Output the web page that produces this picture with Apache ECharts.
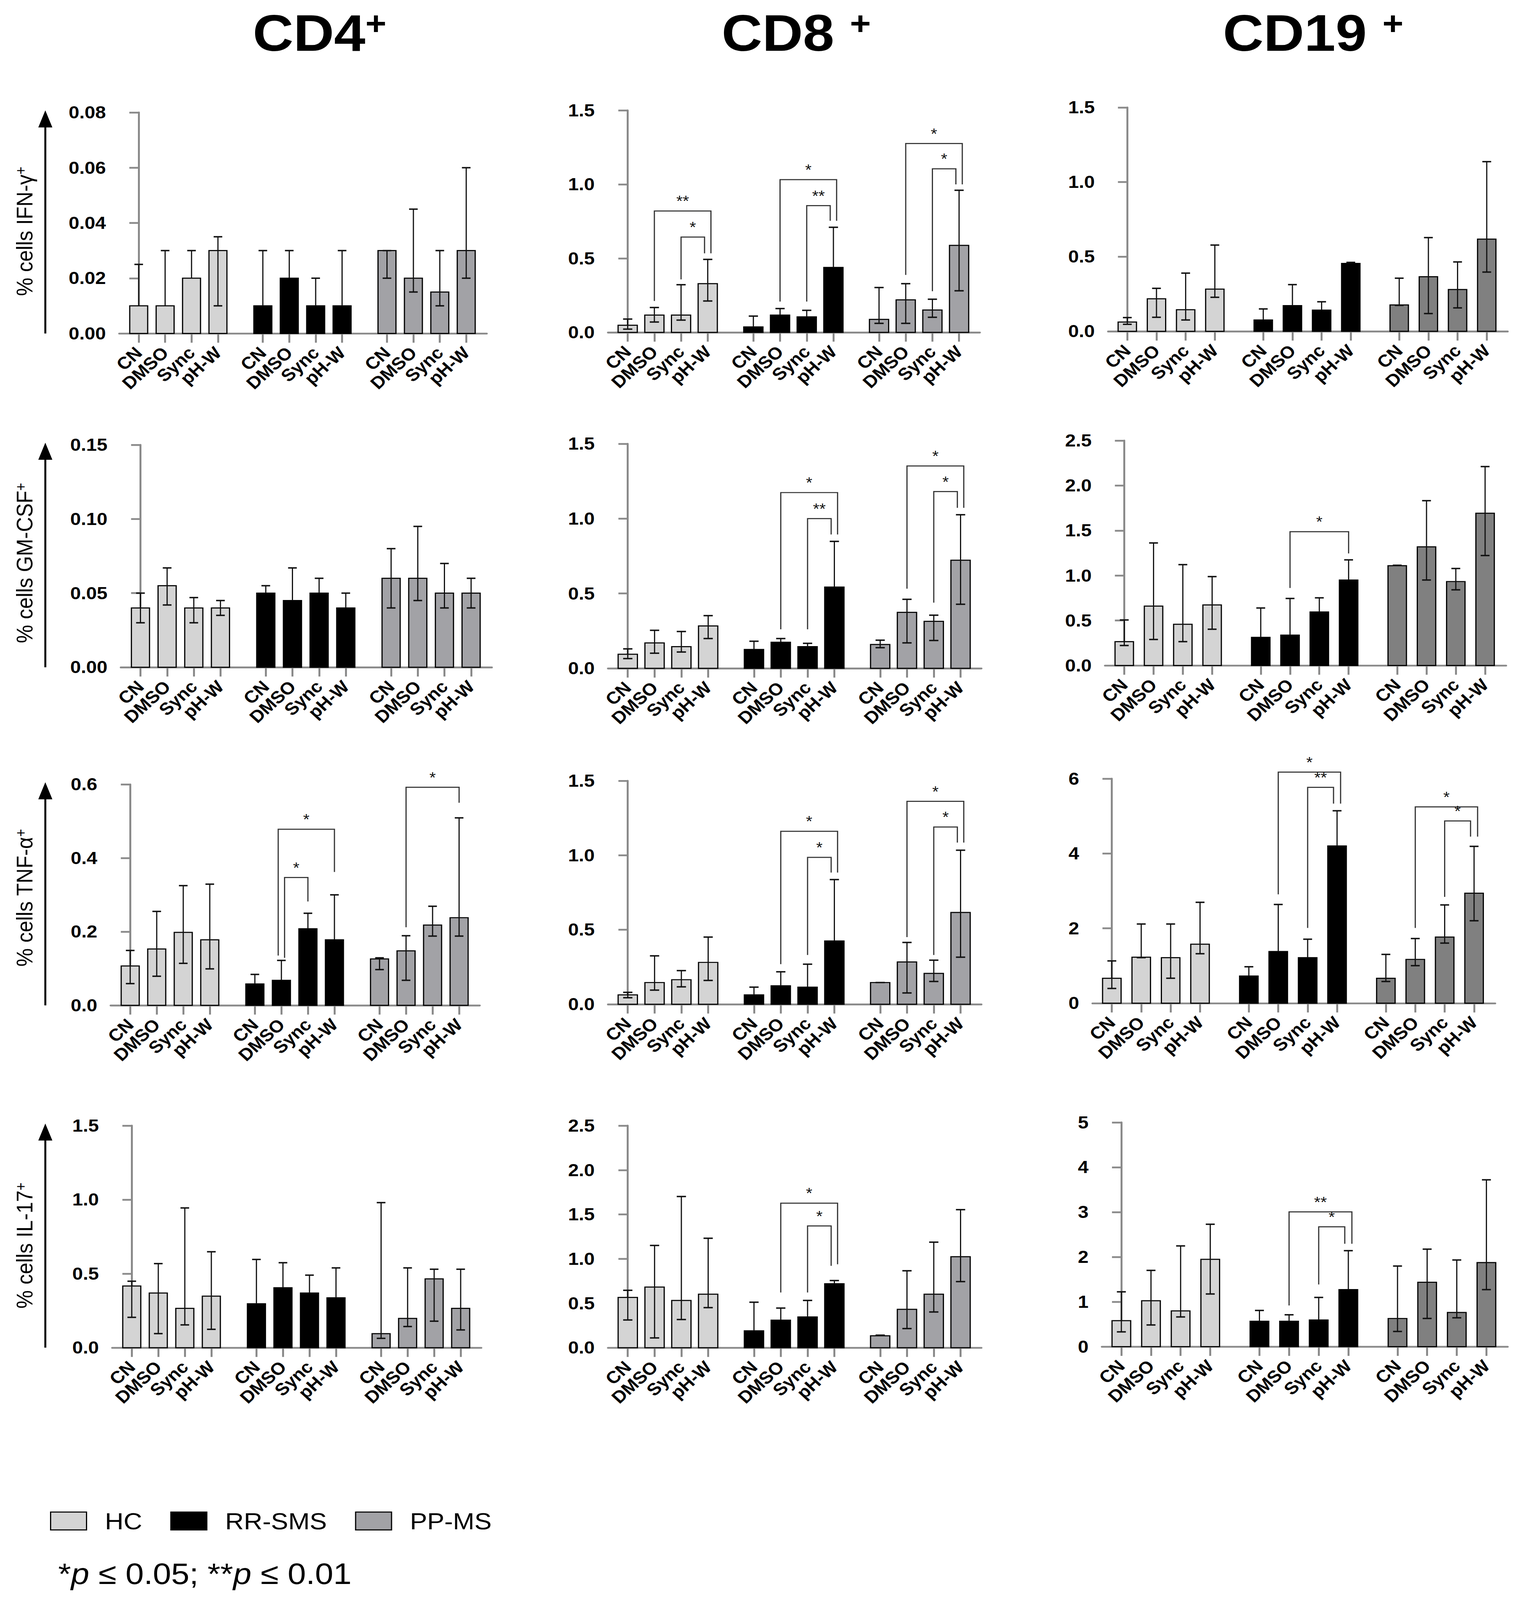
<!DOCTYPE html>
<html><head><meta charset="utf-8">
<script src="https://cdn.jsdelivr.net/npm/echarts@6/dist/echarts.min.js"></script>
<style>html,body{margin:0;padding:0;background:#fff;overflow:hidden}#wrap{position:absolute;left:0;top:0;transform-origin:0 0}#c{width:3875px;height:4496px}</style>
</head><body><div id="wrap"><div id="c"></div></div>
<script>
// ---------------- DATA ----------------
const groups = ['HC', 'RR-SMS', 'PP-MS'];
const treatments = ['CN', 'DMSO', 'Sync', 'pH-W'];
const cellTitles = ['CD4', 'CD8 ', 'CD19 '];
const cytokineLabels = ['% cells IFN-γ', '% cells GM-CSF', '% cells TNF-α', '% cells IL-17'];

// y-axis scales (rows: cytokine, cols: CD4, CD8, CD19)
const yMax = [[0.08, 1.5, 1.5], [0.15, 1.5, 2.5], [0.6, 1.5, 6], [1.5, 2.5, 5]];
const yStep = [[0.02, 0.5, 0.5], [0.05, 0.5, 0.5], [0.2, 0.5, 2], [0.5, 0.5, 1]];
const yDecimals = [[2, 1, 1], [2, 1, 1], [1, 1, 0], [1, 1, 0]];

// each: [HC, RR-SMS, PP-MS] x [CN, DMSO, Sync, pH-W]
// significance brackets: [group, fromTreatment, toTreatment, bracketY, leftLegEnd, rightLegEnd, label]
const cd4IfnMean = [[0.01, 0.01, 0.02, 0.03], [0.01, 0.02, 0.01, 0.01], [0.03, 0.02, 0.015, 0.03]];
const cd4IfnLow  = [[0.01, 0.01, 0.02, 0.01], [0.01, 0.02, 0.01, 0.01], [0.02, 0.015, 0.01, 0.02]];
const cd4IfnHigh = [[0.025, 0.03, 0.03, 0.035], [0.03, 0.03, 0.02, 0.03], [0.03, 0.045, 0.03, 0.06]];
const cd4IfnSig  = [];

const cd8IfnMean = [[0.048, 0.117, 0.117, 0.329], [0.037, 0.117, 0.105, 0.439], [0.088, 0.22, 0.151, 0.588]];
const cd8IfnLow  = [[0.022, 0.07, 0.083, 0.212], [0.037, 0.117, 0.105, 0.439], [0.061, 0.061, 0.102, 0.281]];
const cd8IfnHigh = [[0.09, 0.168, 0.322, 0.493], [0.11, 0.161, 0.149, 0.71], [0.303, 0.329, 0.224, 0.96]];
const cd8IfnSig  = [[0, 1, 3, 0.82, 0.212, 0.534, '**'], [0, 2, 3, 0.644, 0.358, 0.534, '*'],
                    [1, 1, 3, 1.032, 0.208, 0.754, '*'], [1, 2, 3, 0.856, 0.208, 0.754, '**'],
                    [2, 1, 3, 1.276, 0.388, 1.0, '*'], [2, 2, 3, 1.105, 0.278, 1.0, '*']];

const cd19IfnMean = [[0.062, 0.218, 0.145, 0.283], [0.076, 0.172, 0.142, 0.455], [0.177, 0.366, 0.28, 0.618]];
const cd19IfnLow  = [[0.047, 0.094, 0.076, 0.228], [0.076, 0.172, 0.142, 0.455], [0.174, 0.119, 0.157, 0.397]];
const cd19IfnHigh = [[0.092, 0.288, 0.39, 0.578], [0.15, 0.313, 0.198, 0.462], [0.356, 0.628, 0.465, 1.137]];
const cd19IfnSig  = [];

const cd4GmMean = [[0.04, 0.055, 0.04, 0.04], [0.05, 0.045, 0.05, 0.04], [0.06, 0.06, 0.05, 0.05]];
const cd4GmLow  = [[0.03, 0.042, 0.03, 0.035], [0.05, 0.045, 0.05, 0.04], [0.04, 0.045, 0.04, 0.04]];
const cd4GmHigh = [[0.05, 0.067, 0.047, 0.045], [0.055, 0.067, 0.06, 0.05], [0.08, 0.095, 0.07, 0.06]];
const cd4GmSig  = [];

const cd8GmMean = [[0.094, 0.17, 0.145, 0.283], [0.126, 0.174, 0.145, 0.543], [0.159, 0.374, 0.314, 0.722]];
const cd8GmLow  = [[0.065, 0.101, 0.109, 0.199], [0.126, 0.174, 0.145, 0.543], [0.138, 0.17, 0.186, 0.428]];
const cd8GmHigh = [[0.13, 0.254, 0.246, 0.352], [0.181, 0.199, 0.167, 0.848], [0.188, 0.461, 0.355, 1.026]];
const cd8GmSig  = [[1, 1, 3, 1.174, 0.261, 0.894, '*'], [1, 2, 3, 1.0, 0.261, 0.894, '**'],
                   [2, 1, 3, 1.352, 0.532, 1.072, '*'], [2, 2, 3, 1.181, 0.439, 1.072, '*']];

const cd19GmMean = [[0.265, 0.66, 0.458, 0.673], [0.313, 0.338, 0.595, 0.95], [1.109, 1.319, 0.933, 1.692]];
const cd19GmLow  = [[0.222, 0.289, 0.265, 0.403], [0.313, 0.338, 0.595, 0.95], [1.109, 0.95, 0.841, 1.222]];
const cd19GmHigh = [[0.506, 1.362, 1.121, 0.988], [0.639, 0.745, 0.752, 1.174], [1.114, 1.832, 1.078, 2.211]];
const cd19GmSig  = [[1, 1, 3, 1.487, 0.861, 1.246, '*']];

const cd4TnfMean = [[0.107, 0.153, 0.198, 0.178], [0.058, 0.068, 0.208, 0.178], [0.126, 0.148, 0.218, 0.238]];
const cd4TnfLow  = [[0.059, 0.079, 0.114, 0.099], [0.058, 0.068, 0.208, 0.178], [0.097, 0.068, 0.188, 0.188]];
const cd4TnfHigh = [[0.149, 0.255, 0.325, 0.329], [0.084, 0.122, 0.25, 0.3], [0.129, 0.189, 0.269, 0.509]];
const cd4TnfSig  = [[1, 1, 3, 0.478, 0.135, 0.362, '*'], [1, 1, 2, 0.347, 0.129, 0.282, '*'],
                    [2, 1, 3, 0.592, 0.212, 0.55, '*']];

const cd8TnfMean = [[0.063, 0.146, 0.165, 0.281], [0.063, 0.124, 0.115, 0.425], [0.146, 0.284, 0.207, 0.616]];
const cd8TnfLow  = [[0.044, 0.095, 0.117, 0.16], [0.063, 0.124, 0.115, 0.425], [0.146, 0.076, 0.153, 0.316]];
const cd8TnfHigh = [[0.08, 0.325, 0.226, 0.451], [0.115, 0.218, 0.269, 0.837], [0.146, 0.415, 0.296, 1.034]];
const cd8TnfSig  = [[1, 1, 3, 1.161, 0.269, 0.884, '*'], [1, 2, 3, 0.986, 0.331, 0.884, '*'],
                    [2, 1, 3, 1.362, 0.451, 1.085, '*'], [2, 2, 3, 1.19, 0.331, 1.085, '*']];

const cd19TnfMean = [[0.667, 1.229, 1.217, 1.577], [0.725, 1.38, 1.217, 4.203], [0.667, 1.171, 1.768, 2.939]];
const cd19TnfLow  = [[0.394, 1.217, 0.667, 1.322], [0.725, 1.38, 1.217, 4.203], [0.58, 1.003, 1.606, 2.203]];
const cd19TnfHigh = [[1.13, 2.116, 2.116, 2.696], [0.974, 2.638, 1.71, 5.142], [1.304, 1.728, 2.626, 4.191]];
const cd19TnfSig  = [[1, 1, 3, 6.174, 2.91, 5.333, '*'], [1, 2, 3, 5.768, 2.01, 5.333, '**'],
                     [2, 1, 3, 5.246, 2.01, 4.452, '*'], [2, 2, 3, 4.87, 2.84, 4.452, '*']];

const cd4Il17Mean = [[0.417, 0.369, 0.266, 0.348], [0.297, 0.405, 0.369, 0.337], [0.095, 0.198, 0.465, 0.266]];
const cd4Il17Low  = [[0.205, 0.095, 0.154, 0.124], [0.297, 0.405, 0.369, 0.337], [0.063, 0.143, 0.179, 0.12]];
const cd4Il17High = [[0.449, 0.568, 0.944, 0.648], [0.596, 0.574, 0.49, 0.539], [0.98, 0.539, 0.53, 0.53]];
const cd4Il17Sig  = [];

const cd8Il17Mean = [[0.566, 0.683, 0.532, 0.602], [0.19, 0.31, 0.346, 0.72], [0.134, 0.432, 0.602, 1.024]];
const cd8Il17Low  = [[0.312, 0.11, 0.317, 0.451], [0.19, 0.31, 0.346, 0.72], [0.134, 0.215, 0.402, 0.744]];
const cd8Il17High = [[0.646, 1.151, 1.702, 1.232], [0.512, 0.446, 0.532, 0.756], [0.141, 0.866, 1.188, 1.554]];
const cd8Il17Sig  = [[1, 1, 3, 1.627, 0.622, 0.939, '*'], [1, 2, 3, 1.371, 0.622, 0.922, '*']];

const cd19Il17Mean = [[0.58, 1.024, 0.797, 1.947], [0.565, 0.565, 0.594, 1.271], [0.628, 1.435, 0.763, 1.874]];
const cd19Il17Low  = [[0.329, 0.483, 0.662, 1.174], [0.565, 0.565, 0.594, 1.271], [0.338, 0.628, 0.643, 1.271]];
const cd19Il17High = [[1.222, 1.7, 2.246, 2.729], [0.807, 0.71, 1.097, 2.14], [1.797, 2.174, 1.932, 3.72]];
const cd19Il17Sig  = [[1, 1, 3, 3.005, 0.918, 2.295, '**'], [1, 2, 3, 2.671, 1.386, 2.295, '*']];

const panels = [
  [[cd4IfnMean, cd4IfnLow, cd4IfnHigh, cd4IfnSig], [cd8IfnMean, cd8IfnLow, cd8IfnHigh, cd8IfnSig], [cd19IfnMean, cd19IfnLow, cd19IfnHigh, cd19IfnSig]],
  [[cd4GmMean, cd4GmLow, cd4GmHigh, cd4GmSig], [cd8GmMean, cd8GmLow, cd8GmHigh, cd8GmSig], [cd19GmMean, cd19GmLow, cd19GmHigh, cd19GmSig]],
  [[cd4TnfMean, cd4TnfLow, cd4TnfHigh, cd4TnfSig], [cd8TnfMean, cd8TnfLow, cd8TnfHigh, cd8TnfSig], [cd19TnfMean, cd19TnfLow, cd19TnfHigh, cd19TnfSig]],
  [[cd4Il17Mean, cd4Il17Low, cd4Il17High, cd4Il17Sig], [cd8Il17Mean, cd8Il17Low, cd8Il17High, cd8Il17Sig], [cd19Il17Mean, cd19Il17Low, cd19Il17High, cd19Il17Sig]]
];

// ---------------- LAYOUT / STYLE ----------------
const W = 3875, H = 4496;
// grid boxes [left, top(max tick), right, bottom(zero)]
const gridBoxes = [
  [[305, 316, 1246, 937], [1556, 310, 2508, 934], [2836, 302, 3859, 931]],
  [[309, 1250, 1259, 1875], [1556, 1247, 2512, 1878], [2828, 1238, 3855, 1870]],
  [[283, 2204, 1228, 2825], [1556, 2194, 2512, 2822], [2796, 2188, 3827, 2819]],
  [[287, 3163, 1232, 3787], [1556, 3163, 2512, 3787], [2820, 3154, 3859, 3784]]
];
const colXMin = [-0.74, -0.74, -0.66];
const colXMax = [13.18, 13.2, 13.04];
const colGroupStep = [4.7, 4.71, 4.66];
const colBarW = [0.68, 0.72, 0.63];
const colColors = [['#d4d4d4', '#000000', '#a2a2a6'], ['#d4d4d4', '#000000', '#a2a2a6'], ['#d4d4d4', '#000000', '#808080']];
const titleCenters = [818, 2038, 3361];
const yLabelCenters = [650, 1582, 2523, 3500];
const axisGray = '#8a8a8a';
const FONT = "'Liberation Sans', Arial, sans-serif";
const NARROW = "'Liberation Sans Narrow', 'Arial Narrow', 'Liberation Sans', sans-serif";

const option = {
  animation: false,
  backgroundColor: '#ffffff',
  textStyle: { fontFamily: FONT },
  grid: [], xAxis: [], yAxis: [], series: [], graphic: [],
  legend: {
    data: groups, left: 123, top: 4236, orient: 'horizontal',
    itemWidth: 92, itemHeight: 50, itemGap: 72, icon: 'rect', selectedMode: false,
    itemStyle: { borderColor: '#000', borderWidth: 3 },
    textStyle: { fontSize: 66, color: '#000', fontFamily: FONT, padding: [0, 0, 0, 42] }
  }
};

let idx = 0;
for (let r = 0; r < 4; r++) {
  for (let c = 0; c < 3; c++) {
    const [mean, low, high, sig] = panels[r][c];
    const [l, t, rr, b] = gridBoxes[r][c];
    const step = colGroupStep[c];
    const bw = colBarW[c];
    const positions = [];
    const posLabels = [];
    for (let g = 0; g < 3; g++) for (let k = 0; k < 4; k++) { positions.push(k + g * step); posLabels.push(treatments[k]); }
    option.grid.push({ left: l, top: t, width: rr - l, height: b - t, containLabel: false, outerBoundsMode: 'none' });
    option.xAxis.push({
      type: 'value', gridIndex: idx, min: colXMin[c], max: colXMax[c],
      axisLine: { show: true, onZero: false, lineStyle: { color: axisGray, width: 5 } },
      axisTick: { show: true, customValues: positions, length: 26, lineStyle: { color: axisGray, width: 5 } },
      axisLabel: {
        show: true, customValues: positions, rotate: 45, margin: 46,
        fontFamily: FONT, fontWeight: 'bold', fontSize: 48, color: '#000',
        formatter: (v) => {
          let best = 0, bd = 1e9;
          positions.forEach((p, i) => { const d = Math.abs(p - v); if (d < bd) { bd = d; best = i; } });
          return posLabels[best];
        }
      },
      splitLine: { show: false }
    });
    const dec = yDecimals[r][c];
    option.yAxis.push({
      type: 'value', gridIndex: idx, min: 0, max: yMax[r][c], interval: yStep[r][c],
      axisLine: { show: true, lineStyle: { color: axisGray, width: 5 } },
      axisTick: { show: true, length: 24, lineStyle: { color: axisGray, width: 5 } },
      axisLabel: { margin: 34, fontFamily: NARROW, fontWeight: 'bold', fontSize: 49, color: '#000',
        formatter: (v) => Number(v).toFixed(dec) },
      splitLine: { show: false }
    });
    for (let g = 0; g < 3; g++) {
      const color = colColors[c][g];
      option.series.push({
        type: 'custom', name: groups[g], xAxisIndex: idx, yAxisIndex: idx,
        itemStyle: { color: color }, silent: true, clip: false,
        data: treatments.map((tr, k) => [k + g * step, mean[g][k], low[g][k], high[g][k]]),
        renderItem: (params, api) => {
          const x = api.value(0), m = api.value(1), lo = api.value(2), hi = api.value(3);
          const p0 = api.coord([x - bw / 2, 0]);
          const p1 = api.coord([x + bw / 2, m]);
          const pHi = api.coord([x, hi]);
          const pLo = api.coord([x, lo]);
          const wpx = p1[0] - p0[0];
          const cap = wpx * 0.24;
          const ch = [{
            type: 'rect', shape: { x: p0[0], y: p1[1], width: wpx, height: p0[1] - p1[1] },
            style: { fill: color, stroke: '#000', lineWidth: 3 }
          }, {
            type: 'line', shape: { x1: pLo[0], y1: pLo[1], x2: pHi[0], y2: pHi[1] },
            style: { stroke: '#111', lineWidth: 3 }
          }, {
            type: 'line', shape: { x1: pHi[0] - cap, y1: pHi[1], x2: pHi[0] + cap, y2: pHi[1] },
            style: { stroke: '#111', lineWidth: 4 }
          }];
          if (lo < m - 1e-9) {
            ch.push({ type: 'line', shape: { x1: pLo[0] - cap, y1: pLo[1], x2: pLo[0] + cap, y2: pLo[1] },
              style: { stroke: '#111', lineWidth: 4 } });
          }
          return { type: 'group', children: ch };
        }
      });
    }
    if (sig.length) {
      const d = 0.12;
      const items = sig.map((s, i) => {
        const [g, from, to, y] = s;
        let lx = from + g * step, rx = to + g * step;
        sig.forEach((o, j) => {
          if (j === i || o[0] !== g) return;
          if (o[1] === from) lx += (y > o[3] ? -d : d);
          if (o[2] === to) rx += (y > o[3] ? d : -d);
        });
        return [lx, rx, y, s[4], s[5]];
      });
      option.series.push({
        type: 'custom', xAxisIndex: idx, yAxisIndex: idx, silent: true, clip: false, z: 5,
        data: items,
        renderItem: (params, api) => {
          const lx = api.value(0), rx = api.value(1), y = api.value(2), le = api.value(3), re = api.value(4);
          const a = api.coord([lx, le]), bb = api.coord([lx, y]), cc = api.coord([rx, y]), dd = api.coord([rx, re]);
          return { type: 'group', children: [
            { type: 'polyline', shape: { points: [a, bb, cc, dd] }, style: { stroke: '#333', lineWidth: 3, fill: null } },
            { type: 'text', x: (bb[0] + cc[0]) / 2, y: bb[1] - 6,
              style: { text: sig[params.dataIndex][6], fontSize: 42, fontFamily: FONT, fill: '#111', align: 'center', verticalAlign: 'bottom' } }
          ] };
        }
      });
    }
    idx++;
  }
}

// column titles
cellTitles.forEach((t, c) => {
  option.graphic.push({
    type: 'text', x: titleCenters[c], y: 92,
    style: { text: '{m|' + t + '}{s|+}', align: 'center', verticalAlign: 'middle',
      rich: { m: { fontSize: 144, fontWeight: 'bold', fontFamily: FONT, fill: '#000', verticalAlign: 'bottom' },
              s: { fontSize: 92, fontWeight: 'bold', fontFamily: FONT, fill: '#000', verticalAlign: 'top' } } }
  });
});
// y-axis titles and arrows
for (let r = 0; r < 4; r++) {
  const [l, t, rr, b] = gridBoxes[r][0];
  option.graphic.push({
    type: 'text', x: 63, y: yLabelCenters[r], rotation: Math.PI / 2,
    style: { text: '{m|' + cytokineLabels[r] + '}{s|+}', align: 'center', verticalAlign: 'middle',
      rich: { m: { fontSize: 58, fontFamily: FONT, fill: '#000', verticalAlign: 'bottom' },
              s: { fontSize: 38, fontFamily: FONT, fill: '#000', verticalAlign: 'top' } } }
  });
  option.graphic.push({ type: 'line', shape: { x1: 116, y1: t + 30, x2: 116, y2: b }, style: { stroke: '#000', lineWidth: 5 } });
  option.graphic.push({ type: 'polygon', shape: { points: [[116, t - 6], [98, t + 42], [134, t + 42]] }, style: { fill: '#000' } });
}
// footnote
option.graphic.push({
  type: 'text', left: 149, top: 4380,
  style: { text: '{n|*}{i|p}{n| ≤ 0.05; **}{i|p}{n| ≤ 0.01}',
    rich: { n: { fontSize: 84, fontFamily: FONT, fill: '#000' }, i: { fontSize: 84, fontFamily: FONT, fontStyle: 'italic', fill: '#000' } } }
});

// fit the 3875x4496 drawing into the actual viewport if it differs
const vw = window.innerWidth, vh = window.innerHeight;
const sx = vw > 0 ? vw / W : 1, sy = vh > 0 ? vh / H : 1;
if (Math.abs(sx - 1) > 0.002 || Math.abs(sy - 1) > 0.002) {
  document.getElementById('wrap').style.transform = 'scale(' + sx + ',' + sy + ')';
}
const chart = echarts.init(document.getElementById('c'), null, { renderer: 'svg', width: W, height: H });
chart.setOption(option);
</script>
</body></html>
